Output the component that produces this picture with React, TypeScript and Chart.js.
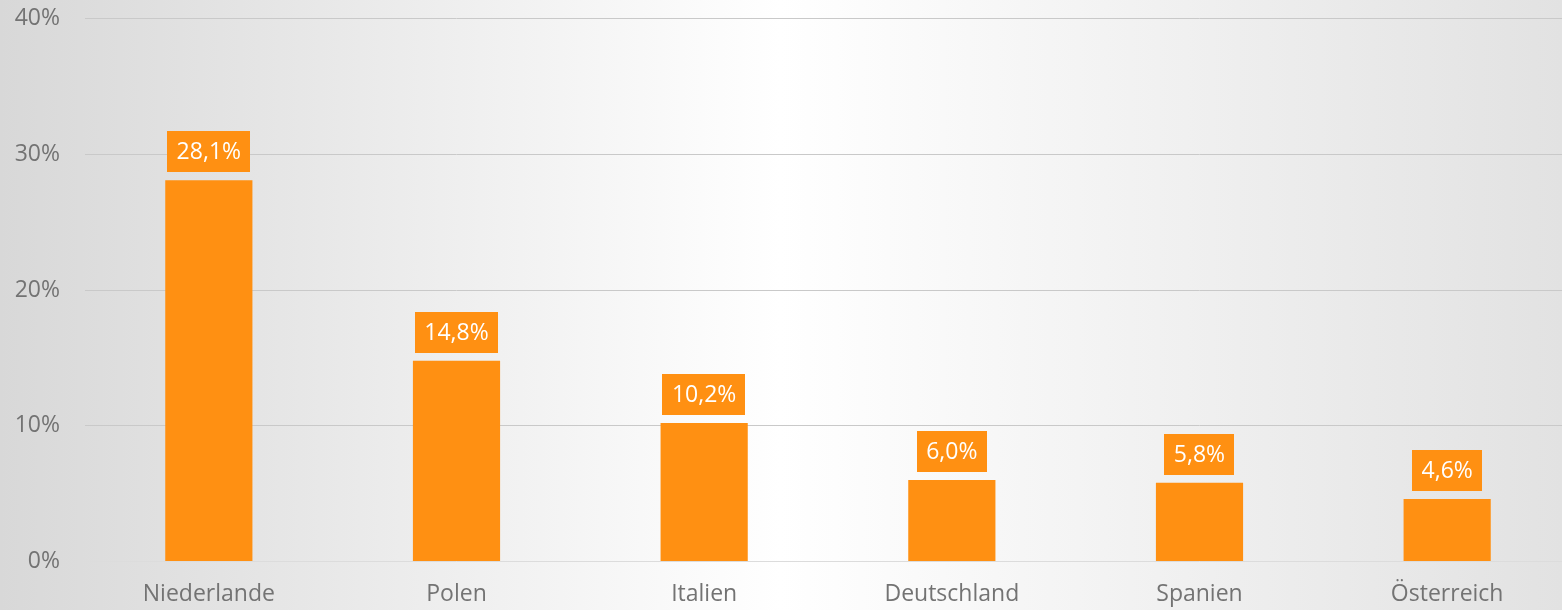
import React, { useEffect, useRef } from "react";
import { Chart, registerables } from "chart.js";

Chart.register(...registerables);

const categories = ["Niederlande", "Polen", "Italien", "Deutschland", "Spanien", "Österreich"];
const shares = [28.1, 14.8, 10.2, 6.0, 5.8, 4.6];
const yTicks = [0, 10, 20, 30, 40];

const ORANGE = "#FF9012";
const FONT = "'Open Sans', 'Noto Sans', sans-serif";

const fmt = (v: number) => v.toFixed(1).replace(".", ",") + "%";

const labelPlugin = {
  id: "boxLabels",
  afterDatasetsDraw(chart: any) {
    const ctx = chart.ctx;
    const meta = chart.getDatasetMeta(0);
    ctx.save();
    ctx.font = `23px ${FONT}`;
    ctx.textAlign = "center";
    ctx.textBaseline = "middle";
    meta.data.forEach((bar: any, i: number) => {
      const text = fmt(shares[i]);
      const w = ctx.measureText(text).width + 19;
      const h = 41;
      const cx = bar.x;
      const bottom = bar.y - 8;
      ctx.fillStyle = ORANGE;
      ctx.fillRect(Math.round(cx - w / 2), Math.round(bottom - h), Math.round(w), h);
      ctx.fillStyle = "#ffffff";
      ctx.fillText(text, cx, bottom - h / 2 + 1);
    });
    ctx.restore();
  },
};

export default function App() {
  const ref = useRef<HTMLCanvasElement | null>(null);
  useEffect(() => {
    if (!ref.current) return;
    const chart = new Chart(ref.current, {
      type: "bar",
      data: {
        labels: categories,
        datasets: [
          {
            data: shares,
            backgroundColor: ORANGE,
            borderWidth: 0,
            categoryPercentage: 1,
            barPercentage: 0.352,
          },
        ],
      },
      options: {
        animation: false,
        responsive: false,
        maintainAspectRatio: false,
        layout: { padding: 0 },
        plugins: { legend: { display: false }, tooltip: { enabled: false } },
        scales: {
          x: {
            grid: { display: false, drawTicks: false },
            border: { display: false },
            ticks: { color: "#737373", font: { family: FONT, size: 23 }, padding: 19 },
          },
          y: {
            min: 0,
            max: 40,
            afterFit(scale: any) {
              scale.width = 85;
            },
            afterBuildTicks(scale: any) {
              scale.ticks = yTicks.map((v) => ({ value: v }));
            },
            grid: {
              color: (c: any) => (c.tick && c.tick.value === 0 ? "#dcdcdc" : "#c9c9c9"),
              lineWidth: 1,
              drawTicks: false,
            },
            border: { display: false },
            ticks: {
              color: "#737373",
              font: { family: FONT, size: 23 },
              padding: 25,
              callback: (v: any) => v + "%",
            },
          },
        },
      },
      plugins: [labelPlugin],
    });
    return () => chart.destroy();
  }, []);

  return (
    <div
      style={{
        position: "fixed",
        left: 0,
        top: 0,
        width: 1562,
        height: 610,
        overflow: "hidden",
        background: "linear-gradient(to right, #d8d8d8 0%, #ffffff 50%, #e2e2e2 100%)",
      }}
    >
      <canvas
        ref={ref}
        width={1571}
        height={647}
        style={{ position: "absolute", left: 0, top: -20, display: "block", width: 1571, height: 647 }}
      />
    </div>
  );
}
